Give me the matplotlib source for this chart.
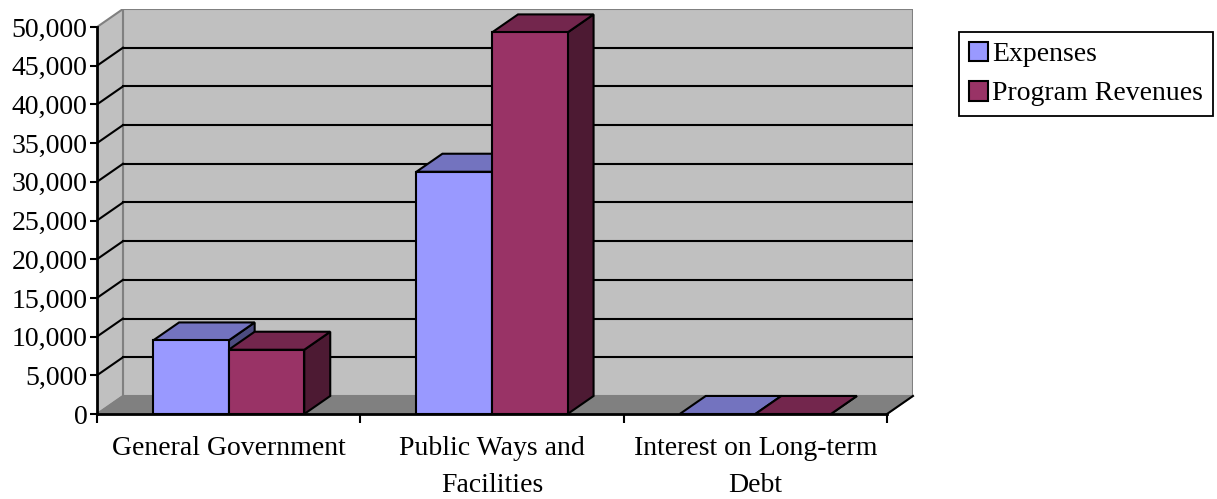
import matplotlib.pyplot as plt
from matplotlib.patches import Polygon, Rectangle, Patch

categories = ['General Government', 'Public Ways and\nFacilities', 'Interest on Long-term\nDebt']
expenses = [9500, 31300, 0]
revenues = [8300, 49300, 0]
series_names = ['Expenses', 'Program Revenues']
y_ticks = list(range(0, 50001, 5000))

# face colours: front, top, side
exp_colors = ('#9999FF', '#7373BF', '#4C4C80')
rev_colors = ('#993366', '#73264D', '#4D1A33')

DX = 0.0987    # depth offset in category units
DY = 2330      # depth offset in value units
BAR_W = 0.287
YMAX = 50000

plt.rcParams['font.family'] = ['Liberation Serif', 'DejaVu Serif']

fig = plt.figure(figsize=(12.17, 4.99), dpi=100)
ax = fig.add_axes([97 / 1217, 85 / 499, 816 / 1217, 405 / 499])
ax.set_xlim(0, 3 + DX)
ax.set_ylim(0, YMAX + DY)

n = len(categories)

# walls and floor
ax.add_patch(Rectangle((DX, DY), n, YMAX, facecolor='#C0C0C0', edgecolor='#808080', lw=1.5, zorder=0))
ax.add_patch(Polygon([(0, 0), (DX, DY), (DX, YMAX + DY), (0, YMAX)],
                     facecolor='#C0C0C0', edgecolor='#808080', lw=1.5, zorder=0))
ax.add_patch(Polygon([(0, 0), (n, 0), (n + DX, DY), (DX, DY)],
                     facecolor='#808080', edgecolor='#808080', lw=1, zorder=0.5))
ax.plot([n, n + DX], [0, DY], color='black', lw=1.5, zorder=3, clip_on=False)

# gridlines on back and side walls
for v in y_ticks[1:-1]:
    ax.plot([DX, n + DX], [v + DY, v + DY], color='black', lw=1.5, zorder=0.6)
    ax.plot([0, DX], [v, v + DY], color='black', lw=1.5, zorder=0.6)


def draw_bar(x0, v, colors):
    front, top, side = colors
    x1 = x0 + BAR_W
    kw = dict(edgecolor='black', lw=1.5, joinstyle='miter', zorder=2)
    ax.add_patch(Polygon([(x1, 0), (x1 + DX, DY), (x1 + DX, v + DY), (x1, v)], facecolor=side, **kw))
    ax.add_patch(Polygon([(x0, v), (x1, v), (x1 + DX, v + DY), (x0 + DX, v + DY)], facecolor=top, **kw))
    if v > 0:
        ax.add_patch(Rectangle((x0, 0), BAR_W, v, facecolor=front, **kw))


for i in range(n):
    draw_bar(i + 0.5 - BAR_W, expenses[i], exp_colors)
    draw_bar(i + 0.5, revenues[i], rev_colors)

# axes
for s in ['top', 'right']:
    ax.spines[s].set_visible(False)
ax.spines['left'].set_bounds(0, YMAX)
ax.spines['bottom'].set_bounds(0, n)
for s in ['left', 'bottom']:
    ax.spines[s].set_linewidth(2)
    ax.spines[s].set_zorder(3)

ax.set_yticks(y_ticks)
ax.set_yticklabels([f'{v:,}' for v in y_ticks])
ax.tick_params(axis='y', length=5, width=1.5, pad=2, labelsize=20)
ax.set_xticks(range(n + 1))
ax.set_xticklabels([])
ax.tick_params(axis='x', which='major', length=6.5, width=1.5)
ax.set_xticks([i + 0.5 for i in range(n)], minor=True)
ax.set_xticklabels(categories, minor=True, fontsize=20, linespacing=1.6)
ax.tick_params(axis='x', which='minor', length=0, pad=16)

handles = [Patch(facecolor=exp_colors[0], edgecolor='black', lw=1.5),
           Patch(facecolor=rev_colors[0], edgecolor='black', lw=1.5)]
leg = fig.legend(handles, series_names, loc='upper left', bbox_to_anchor=(959 / 1217, 1 - 32 / 499),
                 fontsize=20, frameon=True, fancybox=False, edgecolor='black', framealpha=1,
                 handlelength=0.7, handleheight=0.7, handletextpad=0.15, labelspacing=0.5,
                 borderpad=0.35, borderaxespad=0)
leg.get_frame().set_linewidth(1.3)

fig.savefig('out.png', dpi=100)
